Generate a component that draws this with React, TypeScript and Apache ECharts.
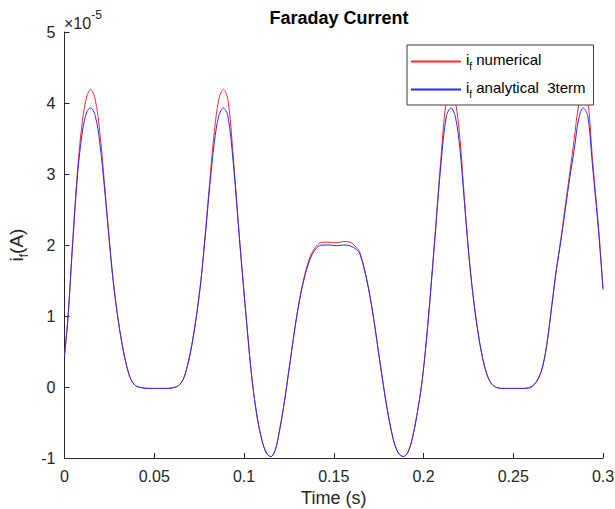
import React, { useEffect, useRef } from "react";
import * as echarts from "echarts";

// time in seconds
const timeS = [
  0.0, 0.002, 0.0045, 0.0073, 0.01, 0.0125, 0.0146, 0.0171, 0.0196, 0.0221,
  0.0246, 0.0271, 0.0296, 0.0321, 0.0346, 0.0371, 0.0396, 0.043, 0.047, 0.052,
  0.057, 0.0605, 0.0635, 0.066, 0.0685, 0.071, 0.0735, 0.076, 0.0785, 0.081,
  0.0835, 0.086, 0.0885, 0.091, 0.094, 0.0978, 0.1015, 0.1045, 0.1075, 0.11,
  0.1125, 0.115, 0.1175, 0.1195, 0.1219, 0.1256, 0.1294, 0.133, 0.1368, 0.1405,
  0.144, 0.1475, 0.1515, 0.1555, 0.159, 0.1625, 0.1646, 0.1684, 0.172, 0.1758,
  0.1795, 0.1832, 0.186, 0.1888, 0.1913, 0.1938, 0.1963, 0.1993, 0.2023, 0.206,
  0.2098, 0.2128, 0.2153, 0.2178, 0.2203, 0.2228, 0.2253, 0.2278, 0.2303, 0.2328,
  0.2353, 0.2378, 0.241, 0.245, 0.25, 0.255, 0.259, 0.2615, 0.264, 0.2665,
  0.269, 0.2715, 0.274, 0.2765, 0.279, 0.2815, 0.284, 0.2865, 0.289, 0.2915,
  0.294, 0.2975, 0.3,
];

// current in units of 1e-5 A
const numericalA = [
  0.44, 1.0, 2.02, 3.06, 3.75, 4.1, 4.19, 4.05, 3.6, 2.92,
  2.18, 1.5, 1.0, 0.6, 0.3, 0.1, 0.02, -0.01, -0.02, -0.02,
  -0.02, -0.01, 0.02, 0.1, 0.3, 0.6, 1.0, 1.5, 2.18, 2.92,
  3.6, 4.05, 4.19, 4.05, 3.25, 2.0, 0.9, 0.1, -0.45, -0.75,
  -0.93, -0.98, -0.88, -0.65, -0.31, 0.34, 1.0, 1.49, 1.83, 1.99,
  2.04, 2.04, 2.03, 2.05, 2.04, 1.97, 1.89, 1.51, 1.0, 0.34,
  -0.27, -0.74, -0.93, -0.98, -0.92, -0.72, -0.4, 0.1, 0.85, 2.0,
  3.25, 4.05, 4.19, 4.02, 3.5, 2.65, 1.85, 1.25, 0.78, 0.42,
  0.18, 0.05, -0.01, -0.02, -0.02, -0.02, -0.01, 0.03, 0.12, 0.3,
  0.65, 1.15, 1.65, 2.08, 2.55, 3.02, 3.5, 3.98, 4.19, 4.05,
  3.25, 2.25, 1.4,
];

const analyticalA = [
  0.44, 1.0, 2.0, 3.0, 3.6, 3.88, 3.93, 3.82, 3.45, 2.85,
  2.15, 1.5, 1.0, 0.6, 0.3, 0.1, 0.02, -0.01, -0.02, -0.02,
  -0.02, -0.01, 0.02, 0.1, 0.3, 0.6, 1.0, 1.5, 2.15, 2.85,
  3.45, 3.82, 3.93, 3.82, 3.16, 1.98, 0.9, 0.1, -0.45, -0.75,
  -0.93, -0.98, -0.88, -0.65, -0.31, 0.34, 1.0, 1.47, 1.8, 1.96,
  2.0, 2.0, 1.99, 2.0, 1.99, 1.94, 1.87, 1.51, 1.0, 0.34,
  -0.27, -0.74, -0.93, -0.98, -0.92, -0.72, -0.4, 0.1, 0.85, 1.98,
  3.16, 3.82, 3.93, 3.8, 3.35, 2.6, 1.85, 1.25, 0.78, 0.42,
  0.18, 0.05, -0.01, -0.02, -0.02, -0.02, -0.01, 0.03, 0.12, 0.3,
  0.65, 1.15, 1.65, 2.05, 2.5, 2.95, 3.35, 3.78, 3.93, 3.82,
  3.16, 2.2, 1.37,
];

const seriesNames = ["i_f numerical", "i_f analytical  3term"];
const legendLabels = [" numerical", " analytical  3term"];
const xTicks = [0, 0.05, 0.1, 0.15, 0.2, 0.25, 0.3];
const yTicks = [-1, 0, 1, 2, 3, 4, 5];

const AX = "#262626";
const FONT = "'Liberation Sans', Arial, Helvetica, sans-serif";

export default function App() {
  const ref = useRef<HTMLDivElement>(null);
  useEffect(() => {
    if (!ref.current) return;
    const chart = echarts.init(ref.current, undefined, { renderer: "svg" });
    const subRich = {
      m: { fontSize: 15, fontFamily: FONT, color: "#000", verticalAlign: "top" as const },
      s: { fontSize: 10, fontFamily: FONT, color: "#000", verticalAlign: "top" as const, padding: [9, 0, 0, 0] },
    };
    chart.setOption({
      animation: false,
      textStyle: { fontFamily: FONT },
      title: [
        {
          text: "Faraday Current",
          left: 334,
          top: 4,
          textAlign: "center",
          textStyle: { fontSize: 18, fontWeight: "bold", color: "#000", fontFamily: FONT },
        },
        {
          text: "{a|×10}{b|-5}",
          left: 64,
          top: 9,
          padding: 0,
          textStyle: {
            fontSize: 16,
            fontWeight: "normal",
            color: AX,
            fontFamily: FONT,
            rich: {
              a: { fontSize: 16, fontWeight: "normal", fontFamily: FONT, color: AX, verticalAlign: "top", padding: [6, 0, 0, 0] },
              b: { fontSize: 12, fontWeight: "normal", fontFamily: FONT, color: AX, verticalAlign: "top" },
            },
          },
        },
      ],
      grid: {
        left: 64.5,
        right: 12,
        top: 32,
        bottom: 51,
        containLabel: false,
        outerBoundsMode: "none",
      },
      legend: {
        orient: "vertical",
        left: 407,
        top: 45,
        width: 184,
        padding: [7, 8, 6, 3],
        itemGap: 9,
        itemWidth: 50,
        itemHeight: 12,
        itemTextGap: 3,
        backgroundColor: "#fff",
        borderColor: "#3a3a3a",
        borderWidth: 1,
        itemStyle: { opacity: 0 },
        data: seriesNames,
        formatter: (name: string) => {
          const i = seriesNames.indexOf(name);
          return "{m|i}{s|f}{m|" + legendLabels[i] + "}";
        },
        textStyle: { rich: subRich },
      },
      xAxis: {
        type: "value",
        min: 0,
        max: 0.3,
        interval: 0.05,
        name: "Time (s)",
        nameLocation: "middle",
        nameGap: 31,
        nameTextStyle: { fontSize: 18, color: AX, fontFamily: FONT },
        axisLine: { show: true, onZero: false, lineStyle: { color: AX, width: 1 } },
        axisTick: { show: true, inside: true, length: 5, lineStyle: { color: AX } },
        axisLabel: {
          fontSize: 16,
          color: AX,
          margin: 10,
          fontFamily: FONT,
          formatter: (v: number) => {
            const t = xTicks.find((x) => Math.abs(x - v) < 1e-9);
            return t === undefined ? "" : String(t);
          },
        },
        splitLine: { show: false },
      },
      yAxis: {
        type: "value",
        min: -1,
        max: 5,
        interval: 1,
        name: "{m|i}{s|f}{m|(A)}",
        nameLocation: "middle",
        nameGap: 30,
        nameTextStyle: {
          rich: {
            m: { fontSize: 19, fontFamily: FONT, color: AX, verticalAlign: "top" },
            s: { fontSize: 12, fontFamily: FONT, color: AX, verticalAlign: "top", padding: [11, 0, 0, 0] },
          },
        },
        axisLine: { show: true, onZero: false, lineStyle: { color: AX, width: 1 } },
        axisTick: { show: true, inside: true, length: 5, lineStyle: { color: AX } },
        axisLabel: {
          fontSize: 16,
          color: AX,
          margin: 9,
          fontFamily: FONT,
          formatter: (v: number) => {
            const t = yTicks.find((y) => Math.abs(y - v) < 1e-9);
            return t === undefined ? "" : String(t);
          },
        },
        splitLine: { show: false },
      },
      series: [
        {
          name: seriesNames[0],
          type: "line",
          data: timeS.map((t, i) => [t, numericalA[i]]),
          symbol: "none",
          smooth: 0.35,
          lineStyle: { color: "#ff2a2a", width: 1 },
          itemStyle: { color: "#ff2a2a" },
        },
        {
          name: seriesNames[1],
          type: "line",
          data: timeS.map((t, i) => [t, analyticalA[i]]),
          symbol: "none",
          smooth: 0.35,
          lineStyle: { color: "#2a2aff", width: 1 },
          itemStyle: { color: "#2a2aff" },
        },
      ],
    });
    return () => chart.dispose();
  }, []);
  return <div ref={ref} style={{ width: 615, height: 509, position: "absolute", left: 0, top: 0 }} />;
}
